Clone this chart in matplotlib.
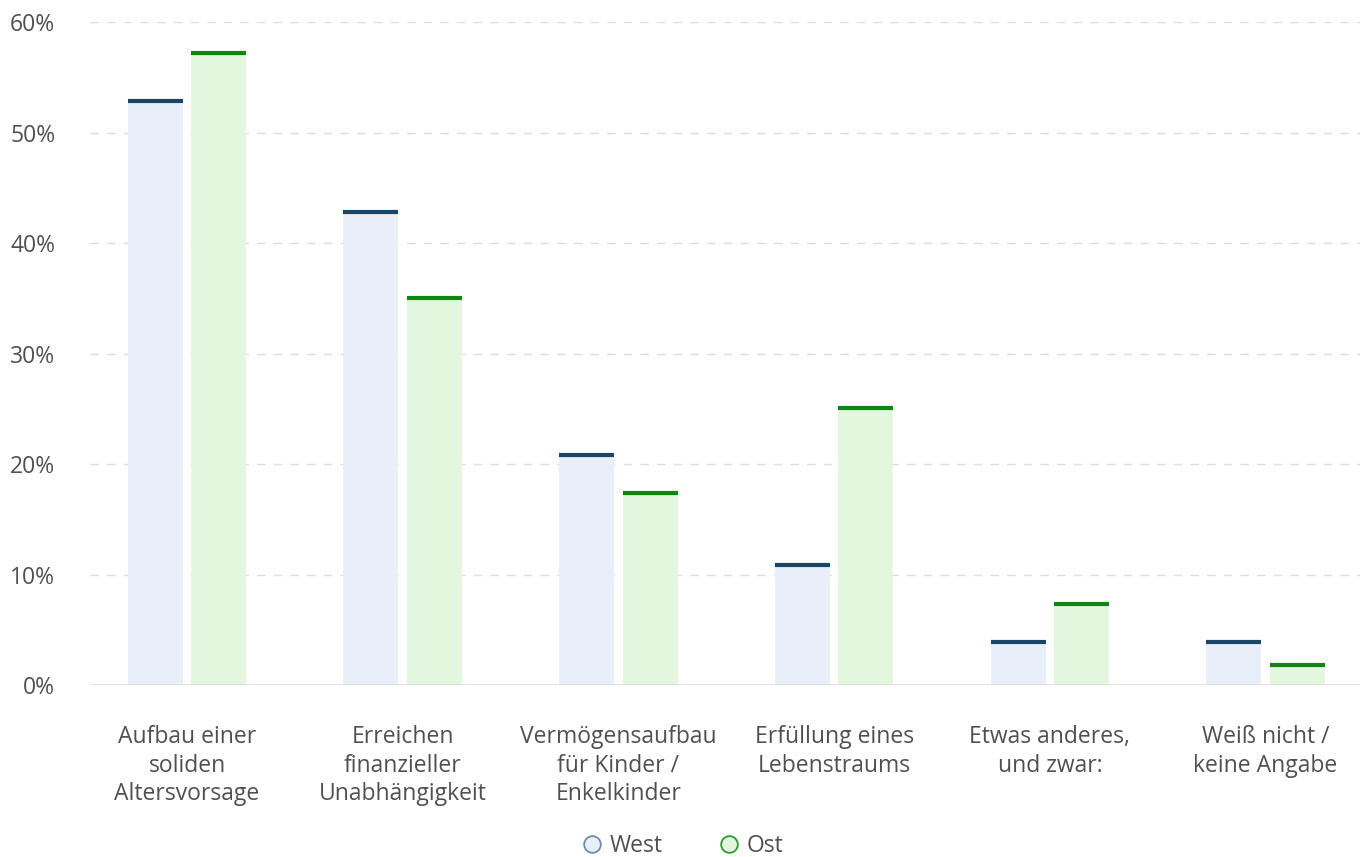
import matplotlib
matplotlib.use("Agg")
import matplotlib.pyplot as plt
from matplotlib.lines import Line2D
import numpy as np

categories = ["Aufbau einer\nsoliden\nAltersvorsage",
              "Erreichen\nfinanzieller\nUnabhängigkeit",
              "Vermögensaufbau\nfür Kinder /\nEnkelkinder",
              "Erfüllung eines\nLebenstraums",
              "Etwas anderes,\nund zwar:",
              "Weiß nicht /\nkeine Angabe"]
west = [53, 43, 21, 11, 4, 4]
ost = [57.3, 35.2, 17.5, 25.2, 7.5, 2]
series_names = ["West", "Ost"]
yticks = [0, 10, 20, 30, 40, 50, 60]

plt.rcParams['font.family'] = ['Open Sans', 'DejaVu Sans']

W, H = 1370, 857
fig = plt.figure(figsize=(W / 100, H / 100), dpi=100)
ax = fig.add_axes([90 / W, (H - 685) / H, 1270 / W, 663 / H])

fill_cols = ["#e8eff9", "#e2f7dd"]
line_cols = ["#1b4565", "#13840f"]
bw = 0.255
off = 0.1475
x = np.arange(len(categories))
FS = 16.5
TC = "#505050"

for vals, o, fc, lc in [(west, -off, fill_cols[0], line_cols[0]), (ost, off, fill_cols[1], line_cols[1])]:
    ax.bar(x + o, vals, width=bw, color=fc, zorder=2)
    ax.hlines([v - 0.15 for v in vals], x + o - bw / 2, x + o + bw / 2, colors=lc, linewidth=3, zorder=3)

ax.set_xlim(-0.45, -0.45 + 1270 / 215.7)
ax.set_ylim(0, 60)
ax.set_yticks(yticks)
ax.set_yticklabels([f"{t}%" for t in yticks])
for t in yticks[1:]:
    ax.axhline(t, color="#dcdcdc", linewidth=1, linestyle=(0, (6, 6)), zorder=1)
ax.axhline(0, color="#e0e0e0", linewidth=2, zorder=4)

ax.set_xticks(x)
ax.set_xticklabels(categories, fontsize=FS, color=TC, linespacing=1.24, va="top")
ax.tick_params(axis="x", length=0, pad=29)
ax.tick_params(axis="y", length=0, pad=25, labelsize=FS, labelcolor=TC)
for s in ax.spines.values():
    s.set_visible(False)

handles = [Line2D([], [], marker="o", linestyle="none", markersize=12,
                  markerfacecolor=fill_cols[i], markeredgecolor=["#6d8cae", "#2e9a2a"][i],
                  markeredgewidth=1.3) for i in range(2)]
fig.legend(handles, series_names, loc="center", bbox_to_anchor=(682 / W, 1 - 846 / H),
           ncol=2, frameon=False, fontsize=FS, handlelength=1.0, handletextpad=0.27,
           columnspacing=2.43, labelcolor=TC)

fig.savefig("out.png", dpi=100)
